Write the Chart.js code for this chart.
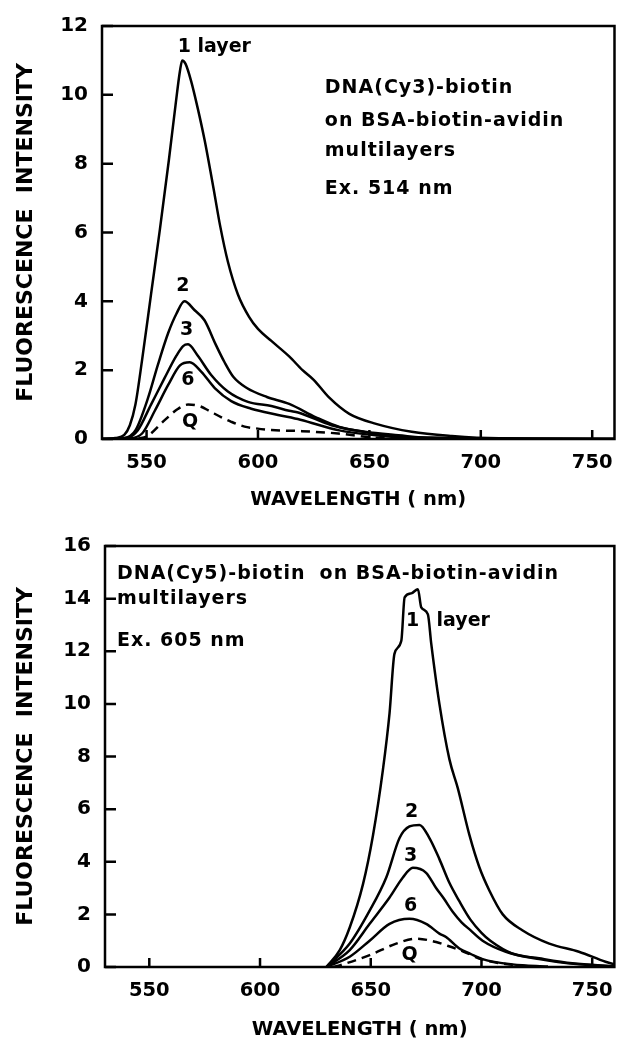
<!DOCTYPE html>
<html lang="en">
<head>
<meta charset="UTF-8">
<title>DNA-biotin on BSA-biotin-avidin multilayers</title>
<script src="https://cdn.jsdelivr.net/npm/chart.js"></script>
<style>
  body { margin: 0; background: #fff; }
  canvas { display: block; }
</style>
</head>
<body>
<canvas id="cy3" width="625" height="520"></canvas>
<canvas id="cy5" width="625" height="530"></canvas>
<script>
// axis ticks
const xTicks = [550, 600, 650, 700, 750];
const yTicksCy3 = [0, 2, 4, 6, 8, 10, 12];
const yTicksCy5 = [0, 2, 4, 6, 8, 10, 12, 14, 16];

// Cy3 spectra, [wavelength nm, intensity]
const cy3Layer1 = [[530,0],[536,0.03],[540,0.12],[542.5,0.4],[545,1.0],[548,2.3],[552,4.2],[556,6.1],[560,8.1],[563,9.7],[565,10.7],[566,11.0],[567.5,10.9],[570,10.4],[573,9.6],[576,8.7],[580,7.3],[583,6.2],[586.5,5.15],[591,4.2],[596,3.55],[600,3.2],[606,2.85],[614,2.4],[620,2.0],[625,1.72],[632,1.2],[641,0.73],[653,0.44],[669,0.21],[687,0.09],[708,0.02],[760,0]];
const cy3Layer2 = [[530,0],[540,0.03],[545,0.25],[550.7,1.2],[555,2.14],[559.7,3.08],[563.4,3.64],[567,4.0],[571.6,3.74],[576,3.45],[581,2.75],[585,2.23],[589,1.8],[595,1.48],[604,1.22],[614,1.02],[626,0.63],[636.5,0.35],[648,0.21],[663,0.11],[678,0.03],[760,0]];
const cy3Layer3 = [[530,0],[541,0.03],[546,0.25],[552,1.0],[558,1.76],[563.4,2.42],[566.4,2.7],[568.6,2.75],[573,2.42],[579,1.86],[586.5,1.38],[595.5,1.08],[606,0.96],[614,0.82],[618,0.77],[633,0.4],[648,0.2],[665,0.06],[760,0]];
const cy3Layer6 = [[530,0],[542,0.02],[548,0.16],[553.7,0.82],[559.7,1.57],[565,2.14],[569.4,2.23],[574.6,1.95],[580.6,1.48],[588,1.1],[597,0.88],[609,0.7],[619,0.56],[636.5,0.25],[651,0.12],[665,0.04],[760,0]];
const cy3Q = [[546,0],[550.7,0.1],[558,0.54],[564,0.87],[568.6,1.0],[574,0.95],[578,0.82],[583.6,0.63],[588,0.5],[594,0.36],[599,0.31],[606,0.26],[619,0.23],[636,0.16],[650,0.05],[665,0]];

// Cy5 spectra
const cy5Layer1 = [[630,0],[636,0.64],[640.5,1.5],[646.5,3.15],[651,5.0],[655.5,7.5],[658.5,9.66],[660.7,11.9],[663.8,12.4],[665.3,14.05],[668.3,14.2],[671.3,14.36],[672.8,13.67],[675.8,13.4],[677.3,12.3],[681,10.0],[685.5,7.9],[689.3,6.8],[694.6,5.0],[699,3.8],[703.6,2.9],[709.6,2.0],[718.6,1.39],[730.6,0.89],[744,0.58],[756,0.2],[760,0.1]];
const cy5Layer2 = [[630,0],[640.5,0.89],[649.5,2.14],[657,3.4],[663,4.9],[667.5,5.34],[672,5.4],[676.5,4.9],[681,4.1],[685.5,3.2],[690,2.5],[695,1.8],[700,1.3],[704,1.0],[714,0.51],[726,0.33],[741,0.14],[760,0.03]];
const cy5Layer3 = [[630,0],[640.5,0.64],[649.5,1.64],[658.5,2.64],[664.5,3.4],[669,3.77],[675,3.58],[679.5,3.0],[683,2.6],[687,2.1],[691,1.7],[695,1.4],[700.5,1.0],[711,0.58],[726,0.3],[744,0.1],[760,0.02]];
const cy5Layer6 = [[630,0],[640.5,0.39],[649.5,1.0],[658.5,1.64],[667.5,1.83],[675,1.64],[681,1.27],[684,1.14],[690,0.7],[695,0.5],[700.5,0.3],[714,0.1],[730,0.02]];
const cy5Q = [[633,0],[637.4,0.1],[649.5,0.45],[661.5,0.89],[670.5,1.08],[679.5,0.95],[685,0.8],[691.5,0.6],[700.5,0.28],[712,0.1],[725,0]];

// curve labels: [text, nm, intensity, align]
const cy3Labels = [['1 layer',564,11.4,'left'],['2',566.3,4.43,'center'],['3',568,3.16,'center'],['6',568.5,1.72,'center'],['Q',569.5,0.48,'center']];
const cy5Labels = [['1',668.9,13.16,'center'],['layer',679.7,13.16,'left'],['2',668.4,5.9,'center'],['3',668,4.21,'center'],['6',668,2.33,'center'],['Q',667.5,0.45,'center']];
const cy3Notes = [['DNA(Cy3)-biotin',630,10.2],['on BSA-biotin-avidin',630,9.24],['multilayers',630,8.36],['Ex. 514 nm',630,7.26]];
const cy5Notes = [['DNA(Cy5)-biotin',535.4,14.92],['on BSA-biotin-avidin',626.9,14.92],['multilayers',535.4,14.0],['Ex. 605 nm',535.4,12.4]];

const FONT = '"DejaVu Sans", sans-serif';
Chart.defaults.font.family = FONT;
Chart.defaults.font.weight = 'bold';
Chart.defaults.color = '#000';

function framePlugin(labels, notes) {
  return {
    id: 'frame',
    afterDraw(chart) {
      const { ctx, chartArea: a, scales: { x, y } } = chart;
      ctx.save();
      ctx.strokeStyle = '#000';
      ctx.lineWidth = 2.5;
      ctx.strokeRect(a.left, a.top, a.right - a.left, a.bottom - a.top);
      // inward tick marks
      ctx.beginPath();
      y.ticks.forEach(t => {
        const py = y.getPixelForValue(t.value);
        ctx.moveTo(a.left, py); ctx.lineTo(a.left + 11, py);
      });
      x.ticks.forEach(t => {
        const px = x.getPixelForValue(t.value);
        ctx.moveTo(px, a.bottom); ctx.lineTo(px, a.bottom - 9);
      });
      ctx.stroke();

      ctx.fillStyle = '#000';
      ctx.textBaseline = 'middle';
      ctx.font = 'bold 19px ' + FONT;
      labels.forEach(([text, nm, v, align]) => {
        ctx.textAlign = align;
        ctx.fillText(text, x.getPixelForValue(nm), y.getPixelForValue(v));
      });
      ctx.letterSpacing = '1px';
      ctx.textAlign = 'left';
      notes.forEach(([text, nm, v]) => {
        ctx.fillText(text, x.getPixelForValue(nm), y.getPixelForValue(v));
      });
      ctx.restore();
    }
  };
}

function line(points, dashed) {
  return {
    data: points.map(p => ({ x: p[0], y: p[1] })),
    borderColor: '#000',
    borderWidth: 2.5,
    borderDash: dashed ? [9, 6] : [],
    pointRadius: 0,
    cubicInterpolationMode: 'monotone',
    fill: false
  };
}

function makeChart(id, series, yTicks, yMax, pad, yWidth, xHeight, labels, notes) {
  new Chart(document.getElementById(id), {
    type: 'line',
    data: { datasets: series },
    options: {
      responsive: false,
      animation: false,
      layout: { padding: { top: pad, right: 10, left: 0, bottom: 0 } },
      plugins: { legend: { display: false }, tooltip: { enabled: false } },
      scales: {
        x: {
          type: 'linear',
          min: 530,
          max: 760,
          grid: { display: false, drawTicks: false },
          border: { display: false },
          afterBuildTicks: s => { s.ticks = xTicks.map(v => ({ value: v })); },
          afterFit: s => { s.height = xHeight; },
          ticks: { font: { size: 19.5 }, padding: 12, maxRotation: 0, autoSkip: false },
          title: { display: true, text: 'WAVELENGTH ( nm)', font: { size: 19.5 }, padding: { bottom: 8 } }
        },
        y: {
          min: 0,
          max: yMax,
          grid: { display: false, drawTicks: false },
          border: { display: false },
          afterBuildTicks: s => { s.ticks = yTicks.map(v => ({ value: v })); },
          afterFit: s => { s.width = yWidth; },
          ticks: { font: { size: 20 }, padding: 14, autoSkip: false },
          title: { display: true, text: 'FLUORESCENCE  INTENSITY', font: { size: 22 }, padding: { top: 13 } }
        }
      }
    },
    plugins: [framePlugin(labels, notes)]
  });
}

makeChart('cy3',
  [line(cy3Layer1), line(cy3Layer2), line(cy3Layer3), line(cy3Layer6), line(cy3Q, true)],
  yTicksCy3, 12, 14, 102, 81, cy3Labels, cy3Notes);

makeChart('cy5',
  [line(cy5Layer1), line(cy5Layer2), line(cy5Layer3), line(cy5Layer6), line(cy5Q, true)],
  yTicksCy5, 16, 21, 105, 83, cy5Labels, cy5Notes);
</script>
</body>
</html>
